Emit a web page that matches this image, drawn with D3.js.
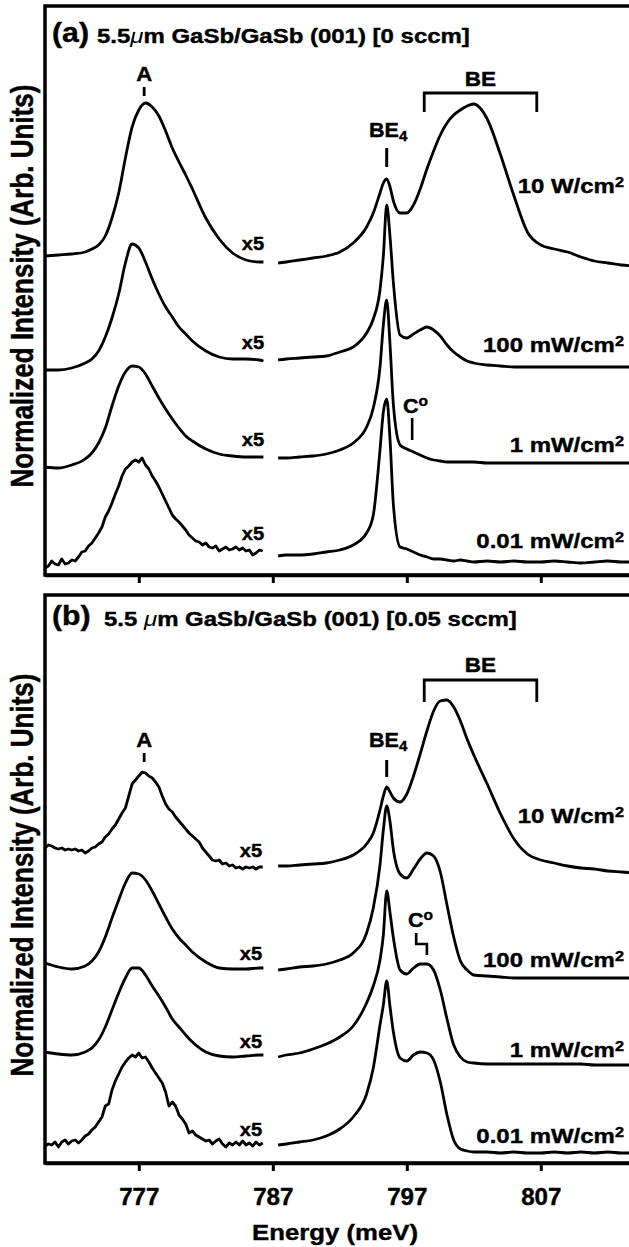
<!DOCTYPE html>
<html lang="en">
<head>
<meta charset="UTF-8"/>
<title>GaSb/GaSb PL spectra</title>
<script src="https://d3js.org/d3.v7.min.js"></script>
<style>
  body { margin: 0; background: #fff; }
  svg text { font-family: "Liberation Sans", Arial, Helvetica, sans-serif; font-weight: bold; fill: #000;
             stroke: #000; stroke-width: 0.4px; }
</style>
</head>
<body>
<script>

// energy sampling (meV) - left window is x5, right window is x1
var eLeft = [770, 771, 772, 773, 773.5, 774, 774.5, 775, 775.5, 776, 776.5, 777, 777.5, 778, 778.5,
             779, 779.5, 780, 780.5, 781, 782, 783, 784, 785, 786, 786.3];
var eRight = [787.4, 788, 789, 790, 791, 792, 793, 794, 794.5, 795, 795.25, 795.5, 795.75, 796,
              796.5, 797, 797.5, 798, 798.5, 799, 799.5, 800, 800.5, 801, 801.5, 802,
              803, 804, 805, 806, 807, 808, 809, 810, 811, 812, 813, 814];
var eFine = d3.range(770, 786.3, 0.25);   // noisy low-power scans

var tickValues = [777, 787, 797, 807];
var powers = ["10 W/cm", "100 mW/cm", "1 mW/cm", "0.01 mW/cm"];

// (a) 0 sccm  - intensity + offset, arb. units
var a10W_left = [319, 320, 321, 323, 326, 330, 339, 357, 382, 417, 448, 465, 472, 468, 459, 444, 427, 413, 400, 386, 357, 336, 322, 315, 313, 313];
var a10W_right = [312, 313, 315, 317, 319, 323, 332, 348, 362, 382, 392, 396, 388, 374, 362, 362, 370, 386, 406, 424, 440, 452, 460, 465, 469, 471, 456, 420, 379, 343, 330, 326, 323, 318, 314, 312, 310, 309];
var a100mW_left = [205, 205, 207, 212, 216, 224, 238, 257, 281, 312, 331, 327, 313, 296, 281, 268, 258, 248, 241, 234, 224, 218, 216, 216, 215, 214];
var a100mW_right = [215, 216, 217, 218, 219, 223, 228, 242, 256, 285, 319, 370, 338, 292, 240, 237, 241, 245, 248, 245, 239, 230, 223, 218, 214, 212, 210, 209, 208, 208, 208, 208, 208, 208, 208, 208, 208, 208];
var a1mW_left = [108, 107, 110, 116, 122, 132, 147, 169, 189, 203, 209, 208, 201, 189, 177, 166, 156, 147, 139, 134, 126, 121, 119, 118, 118, 118];
var a1mW_right = [117, 117, 118, 119, 121, 125, 132, 148, 167, 208, 250, 275, 230, 170, 130, 126, 123, 120, 117, 115, 114, 113, 113, 113, 113, 113, 112, 112, 112, 112, 112, 112, 112, 112, 112, 112, 112, 112];
var a001_left = [7, 9, 14, 11, 10, 16, 11, 12, 15, 14, 18, 23, 24, 29, 32, 37, 42, 48, 58, 64,
                 72, 81, 89, 99, 106, 109, 113, 115, 113, 117, 110, 106, 99, 94, 88, 81, 74, 67, 60, 56,
                 53, 49, 45, 40, 37, 34, 33, 30, 32, 28, 27, 29, 24, 26, 28, 25, 26, 28, 25, 27,
                 24, 25, 20, 22, 25, 24];
var a001_right = [19, 20, 20, 21, 23, 25, 30, 42, 60, 125, 163, 176, 135, 70, 28, 26, 23, 20, 18, 16, 16, 15, 14, 15, 14, 13, 14, 13, 14, 13, 13, 14, 13, 12, 13, 14, 13, 13];

// (b) 0.05 sccm
var b10W_left = [315, 318, 317, 315, 314, 315, 313, 314, 313, 314, 312, 313, 310, 312, 315, 316, 319, 321, 326, 329,
                 334, 338, 344, 350, 355, 367, 379, 383, 387, 391, 390, 387, 385, 381, 376, 367, 359, 354, 351, 346,
                 342, 338, 334, 330, 327, 324, 321, 315, 311, 307, 303, 302, 303, 299, 300, 297, 298, 295, 296, 294,
                 296, 295, 296, 294, 296, 296];
var b10W_right = [297, 297, 298, 299, 300, 303, 308, 319, 330, 353, 367, 376, 371, 365, 361, 369, 387, 409, 432, 452, 462, 463, 456, 442, 424, 408, 379, 349, 324, 309, 303, 300, 297, 295, 294, 292, 291, 290];
var b100mW_left = [200, 196, 194, 197, 202, 211, 226, 245, 263, 280, 290, 289, 283, 272, 259, 246, 234, 225, 218, 211, 201, 195, 194, 194, 195, 195];
var b100mW_right = [193, 194, 196, 197, 199, 203, 210, 230, 255, 298, 333, 357, 341, 313, 289, 285, 294, 304, 310, 307, 291, 258, 226, 202, 193, 188, 187, 186, 185, 185, 185, 185, 185, 185, 185, 185, 185, 185];
var b1mW_left = [111, 109, 108, 111, 115, 123, 136, 153, 170, 185, 195, 195, 188, 177, 167, 156, 144, 136, 128, 121, 111, 107, 106, 107, 108, 108];
var b1mW_right = [106, 108, 110, 114, 119, 126, 137, 160, 177, 203, 228, 272, 250, 225, 193, 189, 195, 199, 199, 193, 173, 144, 118, 106, 101, 100, 99, 99, 99, 99, 99, 99, 99, 99, 98, 98, 98, 98];
var b001_left = [17, 19, 18, 21, 16, 21, 23, 19, 22, 23, 20, 23, 27, 29, 33, 36, 41, 46, 57, 59,
                 73, 82, 89, 96, 101, 105, 108, 106, 110, 105, 106, 101, 95, 90, 85, 80, 71, 57, 61, 57,
                 48, 44, 39, 30, 32, 28, 26, 24, 22, 23, 19, 22, 24, 19, 16, 20, 18, 21, 18, 22,
                 18, 20, 17, 21, 18, 20];
var b001_right = [18, 19, 21, 23, 27, 34, 46, 69, 95, 138, 158, 182, 156, 131, 105, 102, 108, 111, 110, 103, 81, 48, 23, 14, 12, 11, 11, 10, 11, 10, 10, 11, 10, 11, 10, 11, 10, 10];

var W = 629, H = 1247;
var SX = 1.17; // the printed figure is a bit wider than tall

var svg = d3.select("body").append("svg")
    .attr("width", W)
    .attr("height", H);

var x = d3.scaleLinear().domain([770, 815]).range([45, 45 + 45 * 13.4]);

var smooth = d3.line().curve(d3.curveMonotoneX);
var rough = d3.line();

function txt(g, px, py, s, size, anchor, sx) {
    return g.append("text")
        .attr("transform", "translate(" + px + "," + py + ") scale(" + (sx || SX) + ",1)")
        .attr("font-size", size)
        .attr("text-anchor", anchor || "start")
        .text(s);
}

var panels = [
    { top: 6, bottom: 575, tag: "(a)", flow: "[0 sccm]", gap: "", titleY: 43, bx: 97,
      spectra: [[a10W_left, a10W_right], [a100mW_left, a100mW_right], [a1mW_left, a1mW_right], [a001_left, a001_right]],
      powerY: [193, 352, 452, 548], x5Y: [250, 349, 446, 540], x5X: 253,
      aY: 81, beY: 86, brTop: 93, brBot: 112, be4Y: 137, be4Tick: [148, 167], labels: true },
    { top: 595, bottom: 1163, tag: "(b)", flow: "[0.05 sccm]", gap: " ", titleY: 626, bx: 104,
      spectra: [[b10W_left, b10W_right], [b100mW_left, b100mW_right], [b1mW_left, b1mW_right], [b001_left, b001_right]],
      powerY: [823, 967, 1057, 1143], x5Y: [857, 960, 1048, 1136], x5X: 251,
      aY: 747, beY: 672, brTop: 680, brBot: 702, be4Y: 747, be4Tick: [760, 777], labels: false }
];

panels.forEach(function(p, pi) {
    var g = svg.append("g");
    var y = d3.scaleLinear().domain([0, p.bottom - p.top]).range([p.bottom, p.top]);

    // frame: top and left, bottom is the axis
    g.append("rect")
        .attr("x", 45).attr("y", p.top)
        .attr("width", 700).attr("height", p.bottom - p.top)
        .attr("fill", "none").attr("stroke", "#000").attr("stroke-width", 3.5);

    var ax = g.append("g")
        .attr("transform", "translate(0," + p.bottom + ")")
        .call(d3.axisBottom(x).tickValues(tickValues).tickSize(8).tickSizeOuter(0).tickPadding(18));
    ax.select(".domain").attr("stroke-width", 3.5);
    ax.selectAll(".tick line").attr("stroke-width", 3);
    if (p.labels) {
        ax.selectAll(".tick text").remove();
    } else {
        ax.selectAll(".tick text")
            .attr("font-size", 23)
            .attr("font-family", "Liberation Sans, Arial, sans-serif")
            .attr("transform", "scale(1.05,1)");
    }

    // spectra
    p.spectra.forEach(function(s, i) {
        var noisy = (i === 3) || (pi === 1 && i === 0);
        var gen = noisy ? rough : smooth;
        gen.x(function(d) { return x(d[0]); }).y(function(d) { return y(d[1]); });
        g.append("path")
            .attr("d", gen(d3.zip(noisy ? eFine : eLeft, s[0])))
            .attr("fill", "none").attr("stroke", "#000")
            .attr("stroke-width", 2.8).attr("stroke-linejoin", "round");
        smooth.x(function(d) { return x(d[0]); }).y(function(d) { return y(d[1]); });
        g.append("path")
            .attr("d", smooth(d3.zip(eRight, s[1])))
            .attr("fill", "none").attr("stroke", "#000")
            .attr("stroke-width", 2.8).attr("stroke-linejoin", "round");

        txt(g, p.x5X, p.x5Y[i], "x5", 17.5, "middle", 1.15);
        txt(g, 624, p.powerY[i], powers[i], 20.5, "end")
            .append("tspan").attr("dy", "-0.45em").attr("font-size", "0.68em").text("2");
    });

    // title
    txt(g, 52, p.titleY - 1, p.tag, 27, "start", 1.12);
    var t = txt(g, p.bx, p.titleY, "", 20.5, "start", 1.17);
    t.append("tspan").text("5.5" + p.gap);
    t.append("tspan").attr("font-style", "italic").attr("font-weight", "normal").attr("stroke-width", 0).text("\u03bc");
    t.append("tspan").text("m GaSb/GaSb (001) " + p.flow);

    // A peak
    txt(g, x(777.4), p.aY, "A", 20.5, "middle", 1.08);
    g.append("line")
        .attr("x1", x(777.4)).attr("x2", x(777.4))
        .attr("y1", p.aY + 6).attr("y2", p.aY + 15)
        .attr("stroke", "#000").attr("stroke-width", 2.8);

    // BE bracket
    txt(g, x(802.5), p.beY, "BE", 20.5, "middle", 1.1);
    g.append("path")
        .attr("d", "M" + x(798.3) + "," + p.brBot + "V" + p.brTop + "H" + x(806.7) + "V" + p.brBot)
        .attr("fill", "none").attr("stroke", "#000").attr("stroke-width", 2.8);

    // BE4
    var be = txt(g, 369, p.be4Y, "BE", 20.5, "start", 1.05);
    be.append("tspan").attr("dy", "0.3em").attr("font-size", "0.7em").text("4");
    g.append("line")
        .attr("x1", x(795.5)).attr("x2", x(795.5))
        .attr("y1", p.be4Tick[0]).attr("y2", p.be4Tick[1])
        .attr("stroke", "#000").attr("stroke-width", 3);
});

// C0 markers
var ga = svg.append("g");
var c1 = txt(ga, 403, 413, "C", 20.5, "start", 1.05);
c1.append("tspan").attr("dy", "-0.5em").attr("font-size", "0.72em").text("o");
ga.append("line").attr("x1", x(797.4)).attr("x2", x(797.4)).attr("y1", 418).attr("y2", 440)
    .attr("stroke", "#000").attr("stroke-width", 2.6);

var c2 = txt(ga, 408, 927, "C", 20.5, "start", 1.05);
c2.append("tspan").attr("dy", "-0.5em").attr("font-size", "0.72em").text("o");
ga.append("path")
    .attr("d", "M" + x(797.7) + ",933V944H" + x(798.5) + "V955")
    .attr("fill", "none").attr("stroke", "#000").attr("stroke-width", 2.6);

// axis titles
txt(svg, 335, 1240, "Energy (meV)", 23, "middle", 1.12);
[286, 875].forEach(function(cy) {
    svg.append("text")
        .attr("transform", "translate(33," + cy + ") rotate(-90) scale(1,1.2)")
        .attr("font-size", 26)
        .attr("text-anchor", "middle")
        .text("Normalized Intensity (Arb. Units)");
});

</script>
</body>
</html>
